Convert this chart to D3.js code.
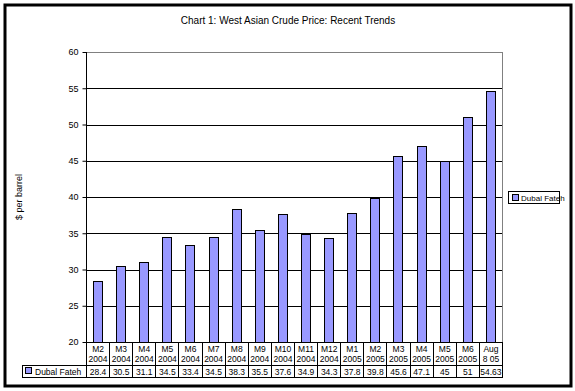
<!DOCTYPE html>
<html><head><meta charset="utf-8">
<script src="https://cdn.jsdelivr.net/npm/d3@7"></script>
<style>
html,body{margin:0;padding:0;background:#fff;}
text{font-family:"Liberation Sans",Arial,sans-serif;fill:#000;}
</style></head>
<body><svg id="c" width="575" height="391"></svg>
<script>
const categories = [["M2","2004"],["M3","2004"],["M4","2004"],["M5","2004"],["M6","2004"],["M7","2004"],["M8","2004"],["M9","2004"],["M10","2004"],["M11","2004"],["M12","2004"],["M1","2005"],["M2","2005"],["M3","2005"],["M4","2005"],["M5","2005"],["M6","2005"],["Aug","8 05"]];
const valueLabels = ["28.4","30.5","31.1","34.5","33.4","34.5","38.3","35.5","37.6","34.9","34.3","37.8","39.8","45.6","47.1","45","51","54.63"];
const dubalFateh = [28.4,30.5,31.1,34.5,33.4,34.5,38.3,35.5,37.6,34.9,34.3,37.8,39.8,45.6,47.1,45,51,54.63];
const yTicks = [20,25,30,35,40,45,50,55,60];
const seriesName = "Dubal Fateh";
const title = "Chart 1: West Asian Crude Price: Recent Trends";
const yLabel = "$ per barrel";

const svg = d3.select("#c");
const L = 86, R = 502, T = 52, B = 342;
const row1 = 365, row2 = 377, tableLeft = 22;

// outer frame
svg.append("rect").attr("x",5).attr("y",5).attr("width",566).attr("height",381)
  .attr("fill","#fff").attr("stroke","#000").attr("stroke-width",3);

const idx = categories.map((d,i)=>i);
const x = d3.scaleBand().domain(idx).range([L,R]).paddingInner(0.61).paddingOuter(0.305);
const xc = d3.scaleBand().domain(idx).range([L,R]);
const y = d3.scaleLinear().domain([20,60]).range([B,T]);

// gridlines
svg.append("g").selectAll("line").data(yTicks.filter(t=>t>20)).join("line")
  .attr("x1",L).attr("x2",R).attr("y1",d=>Math.round(y(d))+0.5).attr("y2",d=>Math.round(y(d))+0.5)
  .attr("stroke",d=>d===60?"#808080":"#000").attr("stroke-width",1);
// plot right border
svg.append("line").attr("x1",R+0.5).attr("x2",R+0.5).attr("y1",T).attr("y2",B)
  .attr("stroke","#808080");

// bars
svg.append("g").selectAll("rect").data(dubalFateh).join("rect")
  .attr("x",(d,i)=>Math.round(x(i))+0.5).attr("width",Math.round(x.bandwidth()))
  .attr("y",d=>Math.round(y(d))+0.5).attr("height",d=>Math.round(B-y(d)))
  .attr("fill","#9999FF").attr("stroke","#000").attr("stroke-width",1);

// y axis
const yAxis = svg.append("g").attr("transform",`translate(${L+0.5},0)`)
  .call(d3.axisLeft(y).tickValues(yTicks).tickSize(4).tickSizeOuter(0).tickPadding(4));
yAxis.selectAll("path,line").attr("stroke","#000");
yAxis.selectAll("text").style("font-size","9px").style("font-family","'Liberation Sans',Arial,sans-serif");
yAxis.select(".domain").remove();
svg.append("line").attr("x1",L+0.5).attr("x2",L+0.5).attr("y1",T).attr("y2",B).attr("stroke","#000");
svg.append("line").attr("x1",L).attr("x2",R+1).attr("y1",B+0.5).attr("y2",B+0.5).attr("stroke","#000");

// data table
const tg = svg.append("g");
// category row vertical lines
idx.forEach(i=>{
  const xl = Math.round(xc(i))+0.5;
  tg.append("line").attr("x1",xl).attr("x2",xl).attr("y1",B).attr("y2",row2).attr("stroke","#000");
});
tg.append("line").attr("x1",R+0.5).attr("x2",R+0.5).attr("y1",B).attr("y2",row2).attr("stroke","#000");
tg.append("line").attr("x1",tableLeft+0.5).attr("x2",tableLeft+0.5).attr("y1",row1).attr("y2",row2).attr("stroke","#000");
tg.append("line").attr("x1",tableLeft).attr("x2",R+1).attr("y1",row1+0.5).attr("y2",row1+0.5).attr("stroke","#000");
tg.append("line").attr("x1",tableLeft).attr("x2",R+1).attr("y1",row2+0.5).attr("y2",row2+0.5).attr("stroke","#000");

tg.selectAll("text.c1").data(categories).join("text").attr("class","c1")
  .attr("x",(d,i)=>xc(i)+xc.bandwidth()/2+0.5).attr("y",352).attr("text-anchor","middle")
  .style("font-size","8.5px").text(d=>d[0]);
tg.selectAll("text.c2").data(categories).join("text").attr("class","c2")
  .attr("x",(d,i)=>xc(i)+xc.bandwidth()/2+0.5).attr("y",362).attr("text-anchor","middle")
  .style("font-size","8.5px").text(d=>d[1]);
tg.selectAll("text.v").data(valueLabels).join("text").attr("class","v")
  .attr("x",(d,i)=>xc(i)+xc.bandwidth()/2+0.5).attr("y",374.5).attr("text-anchor","middle")
  .style("font-size","8.5px").text(d=>d);
tg.append("rect").attr("x",25.5).attr("y",367.5).attr("width",6).attr("height",6)
  .attr("fill","#9999FF").attr("stroke","#000");
tg.append("text").attr("x",35).attr("y",374.5).style("font-size","8.5px").text(seriesName);

// title
svg.append("text").attr("x",288).attr("y",24).attr("text-anchor","middle")
  .style("font-size","10px").text(title);
// y label
svg.append("text").attr("transform","translate(22,197) rotate(-90)").attr("text-anchor","middle")
  .style("font-size","9px").text(yLabel);

// legend
svg.append("rect").attr("x",508.5).attr("y",191.5).attr("width",51).attr("height",12)
  .attr("fill","#fff").attr("stroke","#000");
svg.append("rect").attr("x",512.5).attr("y",194.5).attr("width",6).attr("height",6)
  .attr("fill","#9999FF").attr("stroke","#000");
svg.append("text").attr("x",521).attr("y",201).style("font-size","8px").text(seriesName);
</script></body></html>
